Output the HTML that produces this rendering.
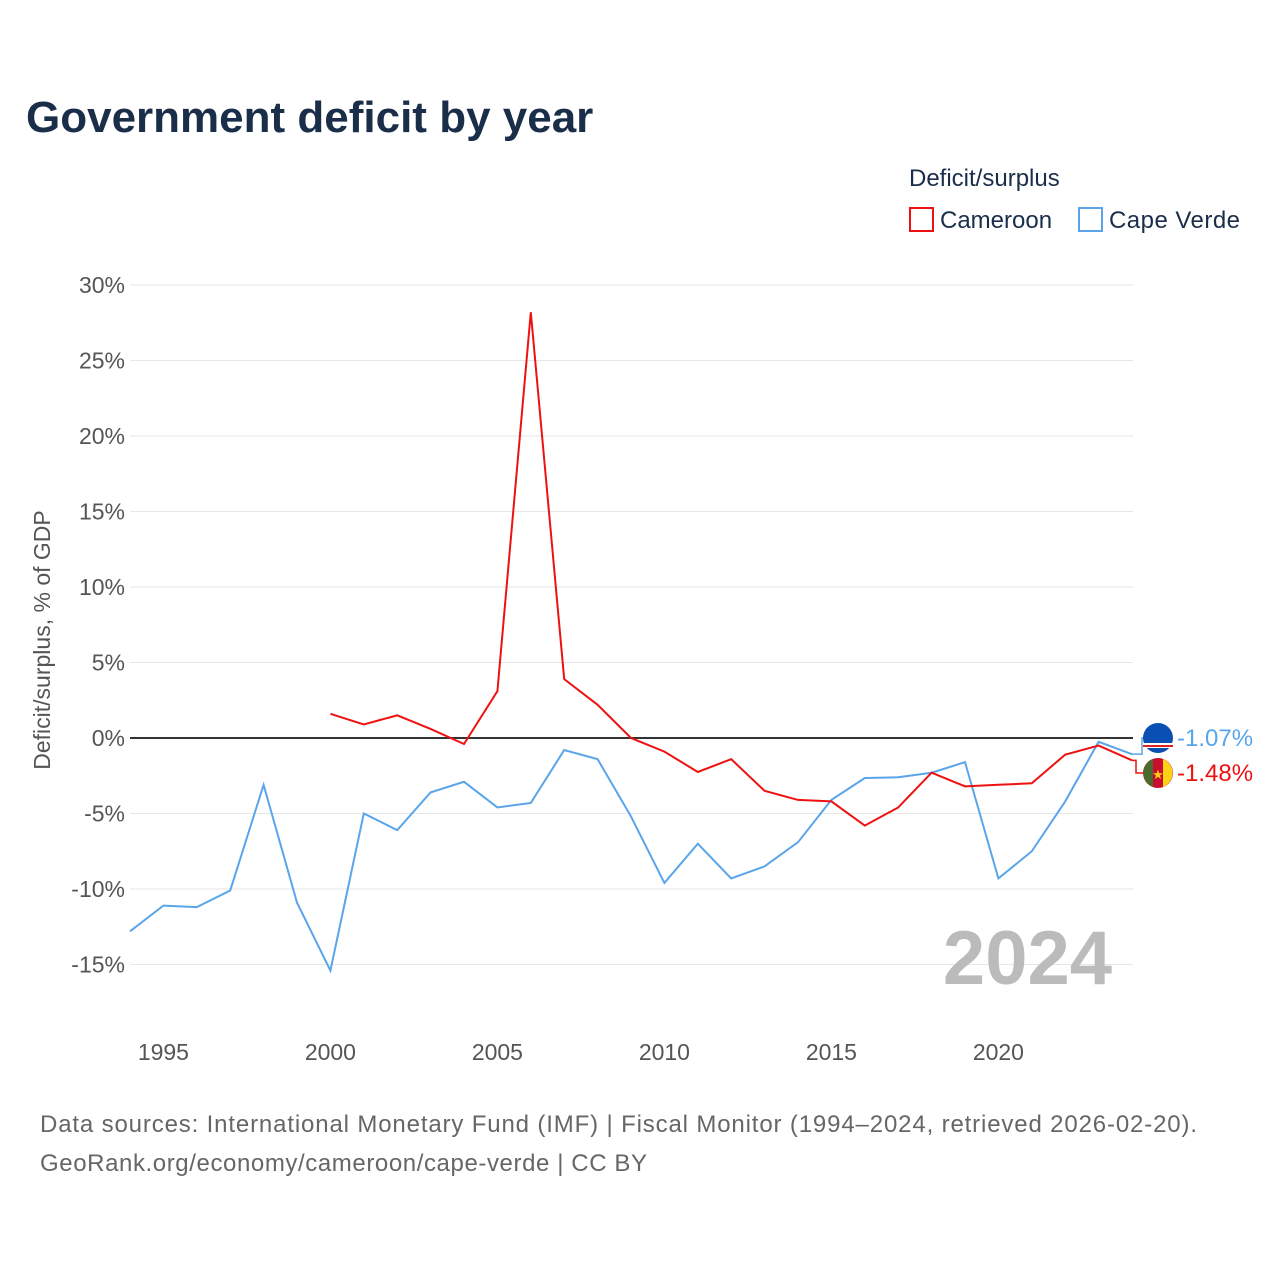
<!DOCTYPE html>
<html><head><meta charset="utf-8"><style>
body{margin:0;background:#fff;font-family:"Liberation Sans",sans-serif}
#wrap{position:relative;width:1280px;height:1280px}
</style></head><body><div id="wrap">
<svg id="svg" width="1280" height="1280">
<text x="26" y="132" font-size="44" font-weight="bold" fill="#1a2e4a">Government deficit by year</text>
<text x="909" y="186" font-size="24" fill="#1a2e4a">Deficit/surplus</text>
<g><rect x="910" y="208" width="23" height="23" fill="none" stroke="#ee1111" stroke-width="2"/><text x="940" y="228" font-size="24" fill="#1a2e4a">Cameroon</text></g>
<g><rect x="1079" y="208" width="23" height="23" fill="none" stroke="#5aa5ea" stroke-width="2"/><text x="1109" y="228" font-size="24" fill="#1a2e4a" textLength="131">Cape Verde</text></g>
<text transform="translate(50,640) rotate(-90)" text-anchor="middle" font-size="23" fill="#555">Deficit/surplus, % of GDP</text>
<g id="grid"></g><g id="series"></g>
<text x="1112" y="984" text-anchor="end" font-size="76" font-weight="bold" fill="#bbb">2024</text>
<text x="40" y="1132" font-size="24" fill="#666" textLength="1157">Data sources: International Monetary Fund (IMF) | Fiscal Monitor (1994–2024, retrieved 2026-02-20).</text>
<text x="40" y="1171" font-size="24" fill="#666" textLength="607">GeoRank.org/economy/cameroon/cape-verde | CC BY</text>
</svg></div>
<script>
const yTicks=[30,25,20,15,10,5,0,-5,-10,-15];
const xTicks=[1995,2000,2005,2010,2015,2020];
const cmYears=[2000,2001,2002,2003,2004,2005,2006,2007,2008,2009,2010,2011,2012,2013,2014,2015,2016,2017,2018,2019,2020,2021,2022,2023,2024];
const cmVals=[1.6,0.9,1.5,0.6,-0.4,3.1,28.2,3.9,2.2,0,-0.9,-2.25,-1.4,-3.5,-4.1,-4.2,-5.8,-4.6,-2.3,-3.2,-3.1,-3.0,-1.1,-0.5,-1.48];
const cvYears=[1994,1995,1996,1997,1998,1999,2000,2001,2002,2003,2004,2005,2006,2007,2008,2009,2010,2011,2012,2013,2014,2015,2016,2017,2018,2019,2020,2021,2022,2023,2024];
const cvVals=[-12.8,-11.1,-11.2,-10.1,-3.1,-10.9,-15.4,-5.0,-6.1,-3.6,-2.9,-4.6,-4.3,-0.8,-1.4,-5.2,-9.6,-7.0,-9.3,-8.5,-6.9,-4.1,-2.65,-2.6,-2.3,-1.6,-9.3,-7.5,-4.2,-0.25,-1.07];
const NS="http://www.w3.org/2000/svg";
const X=y=>130+(y-1994)*(1002/30);
const Y=v=>738-v*15.1;
function mk(t,a,p){const e=document.createElementNS(NS,t);for(const k in a)e.setAttribute(k,a[k]);p.appendChild(e);return e;}
const grid=document.getElementById('grid'),ser=document.getElementById('series');
yTicks.forEach(v=>{
 const l=mk('line',{x1:130,x2:1133,y1:Y(v),y2:Y(v),stroke:v===0?'#333':'#e6e6e6','stroke-width':v===0?2:1},grid);
 
 
 const t=mk('text',{x:125,y:Y(v)+8,'text-anchor':'end','font-size':23,fill:'#555'},grid);
 t.textContent=v+'%';
 
 
});
xTicks.forEach(y=>{
 const t=mk('text',{x:X(y),y:1060,'text-anchor':'middle','font-size':23,fill:'#555'},grid);
 t.textContent=y;
 
 
});
function line(ys,vs,c,name){
 const p=mk('polyline',{points:ys.map((y,i)=>X(y)+','+Y(vs[i])).join(' '),fill:'none',stroke:c,'stroke-width':2},ser);
 
 
}
line(cvYears,cvVals,'#5aa5ea','line-cape-verde');
line(cmYears,cmVals,'#ee1111','line-cameroon');
const cvE=cvVals[cvVals.length-1],cmE=cmVals[cmVals.length-1];
const lx=X(2024);
mk('polyline',{points:`${lx},${Y(cvE)} ${lx+10},${Y(cvE)} ${lx+10},738 ${lx+14},738`,fill:'none',stroke:'#5aa5ea','stroke-width':1.5},ser);
mk('polyline',{points:`${lx},${Y(cmE)} ${lx+4},${Y(cmE)} ${lx+4},773 ${lx+14},773`,fill:'none',stroke:'#ee1111','stroke-width':1.5},ser);
const f1=mk('g',{},ser);
mk('circle',{cx:1158,cy:738,r:15,fill:'#0a50b4'},f1);
mk('rect',{x:1143,y:743,width:30,height:5,fill:'#fff'},f1);
mk('rect',{x:1143,y:745,width:30,height:2,fill:'#d22'},f1);
const f2=mk('g',{},ser);
mk('circle',{cx:1158,cy:773,r:15,fill:'#c8102e'},f2);
mk('path',{d:'M1153,759 A15,15 0 0 0 1153,787 Z',fill:'#4a6b2c'},f2);
mk('path',{d:'M1163,759 A15,15 0 0 1 1163,787 Z',fill:'#fcd116'},f2);
mk('text',{x:1158,y:779,'text-anchor':'middle','font-size':13,fill:'#fcd116'},f2).textContent='★';
const t1=mk('text',{x:1177,y:746,'font-size':24,fill:'#5aa5ea'},ser);t1.textContent=cvE.toFixed(2)+'%';


const t2=mk('text',{x:1177,y:781,'font-size':24,fill:'#ee1111'},ser);t2.textContent=cmE.toFixed(2)+'%';


</script></body></html>
